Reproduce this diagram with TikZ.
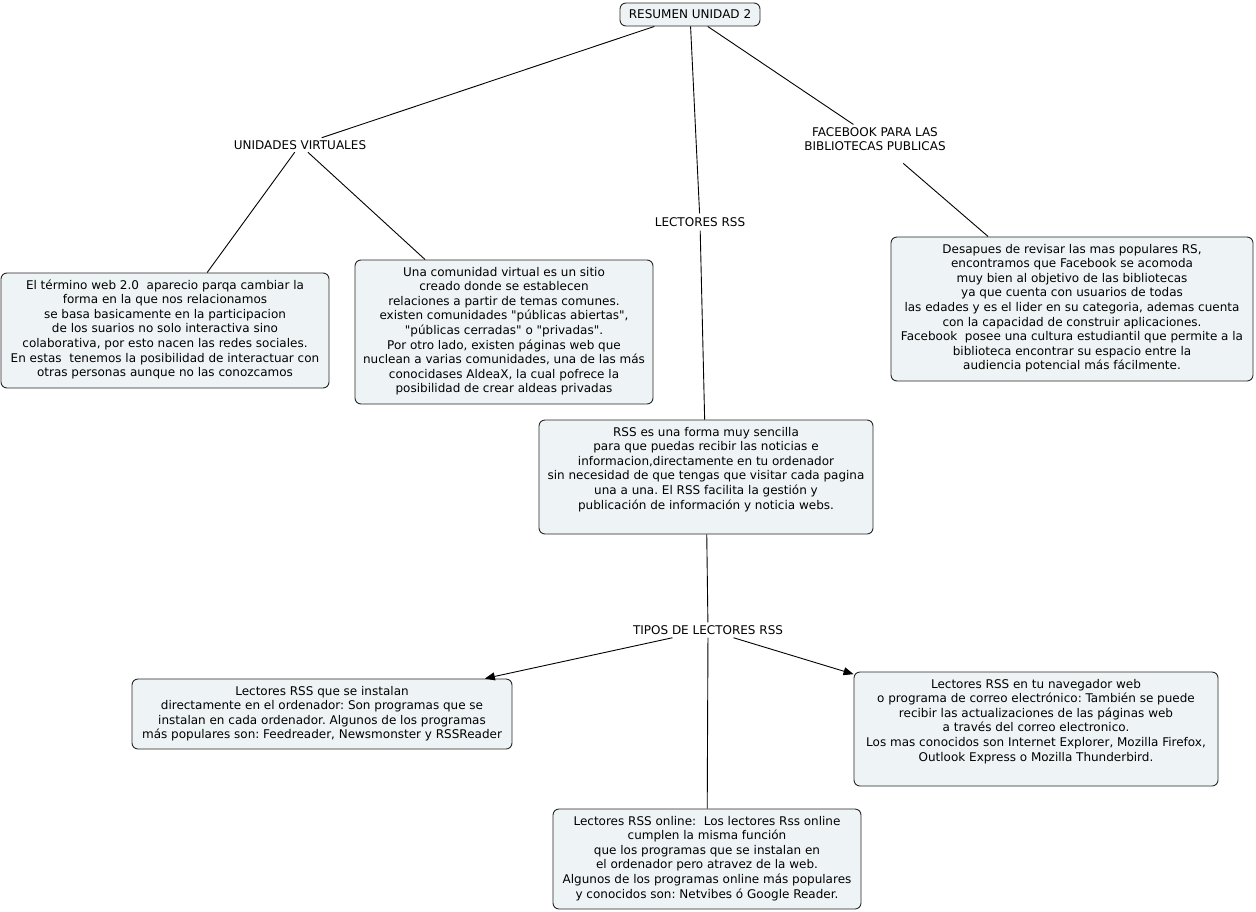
\documentclass[tikz,border=0pt]{standalone}
\usepackage{fontspec}
\newfontfamily\vfont{DejaVu Sans}
\usetikzlibrary{arrows.meta}
\definecolor{boxfill}{RGB}{238,244,245}
\newcommand\bxt[3]{\begin{minipage}[c][#2pt][t]{#1pt}\centering\rule{0pt}{16pt}#3\end{minipage}}
\frenchspacing
\begin{document}
\begin{tikzpicture}[x=1pt,y=-1pt,
  every node/.style={font=\vfont\fontsize{12}{14.6}\selectfont},
  box/.style={draw=black!85, fill=boxfill, rounded corners=6pt, inner sep=0pt, line width=0.9pt},
  lbl/.style={inner sep=2.5pt, align=center},
  conn/.style={line width=0.9pt, draw=black},
  arr/.style={conn, -{Triangle[length=10pt,width=8pt]}}]
\useasboundingbox (0,0) rectangle (1256,911);
\node[box, minimum width=140pt, minimum height=23pt] (top) at (690,14.5) {RESUMEN UNIDAD 2};
\node[lbl] (uv) at (300,145) {UNIDADES VIRTUALES};
\node[lbl, inner sep=4pt] (lr) at (700,222) {LECTORES RSS};
\node[lbl] (fb) at (875,139) {FACEBOOK PARA LAS\\BIBLIOTECAS PUBLICAS};
\node[lbl, inner sep=3pt] (tl) at (708,630) {TIPOS DE LECTORES RSS};
\node[box] (b1) at (165,330.5) {\bxt{328}{115}{El término web 2.0 \ aparecio parqa cambiar la\\forma en la que nos relacionamos\\se basa basicamente en la participacion\\de los suarios no solo interactiva sino\\colaborativa, por esto nacen las redes sociales.\\En estas \ tenemos la posibilidad de interactuar con\\otras personas aunque no las conozcamos}};
\node[box] (b2) at (504,332) {\bxt{298}{144}{Una comunidad virtual es un sitio\\creado donde se establecen\\relaciones a partir de temas comunes.\\existen comunidades "públicas abiertas",\\"públicas cerradas" o "privadas".\\Por otro lado, existen páginas web que\\nuclean a varias comunidades, una de las más\\conocidases AldeaX, la cual pofrece la\\posibilidad de crear aldeas privadas}};
\node[box] (b3) at (1072,309) {\bxt{362}{144}{Desapues de revisar las mas populares RS,\\encontramos que Facebook se acomoda\\muy bien al objetivo de las bibliotecas\\ya que cuenta con usuarios de todas\\las edades y es el lider en su categoria, ademas cuenta\\con la capacidad de construir aplicaciones.\\Facebook \ posee una cultura estudiantil que permite a la\\biblioteca encontrar su espacio entre la\\audiencia potencial más fácilmente.}};
\node[box] (rss) at (706,477) {\bxt{334}{114}{RSS es una forma muy sencilla\\para que puedas recibir las noticias e\\informacion,directamente en tu ordenador\\sin necesidad de que tengas que visitar cada pagina\\una a una. El RSS facilita la gestión y\\publicación de información y noticia webs.}};
\node[box] (bl) at (322,714) {\bxt{380}{70}{Lectores RSS que se instalan\\directamente en el ordenador: Son programas que se\\instalan en cada ordenador. Algunos de los programas\\más populares son: Feedreader, Newsmonster y RSSReader}};
\node[box] (br) at (1036,729) {\bxt{364}{114}{Lectores RSS en tu navegador web\\o programa de correo electrónico: También se puede\\recibir las actualizaciones de las páginas web\\a través del correo electronico.\\Los mas conocidos son Internet Explorer, Mozilla Firefox,\\Outlook Express o Mozilla Thunderbird.}};
\node[box] (bb) at (707,859) {\bxt{308}{100}{Lectores RSS online: \ Los lectores Rss online\\cumplen la misma función\\que los programas que se instalan en\\el ordenador pero atravez de la web.\\Algunos de los programas online más populares\\y conocidos son: Netvibes ó Google Reader.}};
\draw[conn] (top) -- (uv);
\draw[conn] (top) -- (lr);
\draw[conn] (top) -- (fb);
\draw[conn] (uv) -- (b1);
\draw[conn] (uv) -- (b2);
\draw[conn] (lr) -- (rss);
\draw[conn, shorten <=15pt] (fb) -- (b3);
\draw[conn] (rss) -- (tl);
\draw[arr] (tl) -- (bl);
\draw[arr] (tl) -- (br);
\draw[conn] (tl) -- (bb);
\end{tikzpicture}
\end{document}
